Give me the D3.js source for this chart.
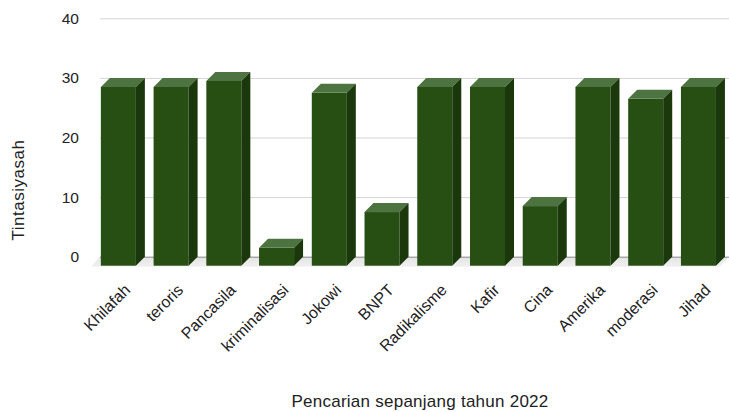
<!DOCTYPE html>
<html>
<head>
<meta charset="utf-8">
<script src="https://cdn.jsdelivr.net/npm/d3@7"></script>
<style>
  body { margin: 0; background: #fff; }
  svg { display: block; font-family: "Liberation Sans", Arial, sans-serif; }
</style>
</head>
<body>
<div id="chart"></div>
<script>
// data
const categories = ["Khilafah", "teroris", "Pancasila", "kriminalisasi", "Jokowi", "BNPT",
  "Radikalisme", "Kafir", "Cina", "Amerika", "moderasi", "Jihad"];
const values = [30, 30, 31, 3, 29, 9, 30, 30, 10, 30, 28, 30];
const yTicks = [0, 10, 20, 30, 40];
const yTitle = "Tintasiyasah";
const xTitle = "Pencarian sepanjang tahun 2022";

const w = 729, h = 412;
const depth = 9; // 3d offset of the columns

const svg = d3.select("#chart").append("svg")
  .attr("width", w)
  .attr("height", h);

const y = d3.scaleLinear().domain([0, 40]).range([256.7, 18.3]);
const x = d3.scaleBand()
  .domain(categories)
  .range([101, 733.8])
  .paddingInner(0.336)
  .paddingOuter(0.168);

const y0 = y(0);

// floor under the columns
const grad = svg.append("defs").append("linearGradient")
  .attr("id", "floor").attr("x1", 0).attr("y1", 0).attr("x2", 0).attr("y2", 1);
grad.append("stop").attr("offset", "0%").attr("stop-color", "#e3e3e3");
grad.append("stop").attr("offset", "100%").attr("stop-color", "#f1f1f1");

svg.append("polygon")
  .attr("points", [[100, y0], [w, y0], [w - depth, y0 + depth + 1], [100 - depth, y0 + depth + 1]].join(" "))
  .attr("fill", "url(#floor)");

// gridlines + tick labels
const yAxis = d3.axisLeft(y).tickValues(yTicks).tickSize(-(w - 100)).tickPadding(21);
const gy = svg.append("g").attr("transform", "translate(100,0)").call(yAxis);
gy.select(".domain").remove();
gy.selectAll(".tick line").attr("stroke", d => d === 0 ? "#8c8c8c" : "#d4d4d4");
gy.selectAll(".tick text")
  .attr("fill", "#222")
  .style("font-size", "15.5px")
  .style("font-family", "'Liberation Sans', Arial, sans-serif");

// 3d columns
const bars = svg.append("g").selectAll("g")
  .data(categories.map((c, i) => ({ c: c, v: values[i] })))
  .enter().append("g");

const bw = x.bandwidth();

bars.append("rect")
  .attr("x", d => x(d.c) - depth)
  .attr("y", d => y(d.v) + depth)
  .attr("width", bw)
  .attr("height", d => y0 - y(d.v))
  .attr("fill", "#274e13");

bars.append("polygon")
  .attr("points", d => {
    let bx = x(d.c), ty = y(d.v);
    return [[bx - depth, ty + depth], [bx, ty], [bx + bw, ty], [bx + bw - depth, ty + depth]].join(" ");
  })
  .attr("fill", "#4d7440");

bars.append("polygon")
  .attr("points", d => {
    let bx = x(d.c), ty = y(d.v);
    return [[bx + bw - depth, ty + depth], [bx + bw, ty], [bx + bw, y0], [bx + bw - depth, y0 + depth]].join(" ");
  })
  .attr("fill", "#1b370c");

// category labels, rotated
svg.append("g").selectAll("text")
  .data(categories)
  .enter().append("text")
  .attr("transform", d => "translate(" + (x(d) + bw / 2 + 4) + ",291) rotate(-45)")
  .attr("text-anchor", "end")
  .attr("fill", "#222")
  .style("font-size", "16px")
  .text(d => d);

// axis titles
svg.append("text")
  .attr("transform", "translate(24,190) rotate(-90)")
  .attr("text-anchor", "middle")
  .attr("fill", "#222")
  .style("font-size", "17px")
  .style("letter-spacing", "0.5px")
  .text(yTitle);

svg.append("text")
  .attr("x", 420)
  .attr("y", 407)
  .attr("text-anchor", "middle")
  .attr("fill", "#222")
  .style("font-size", "17px")
  .style("letter-spacing", "0.25px")
  .text(xTitle);
</script>
</body>
</html>
